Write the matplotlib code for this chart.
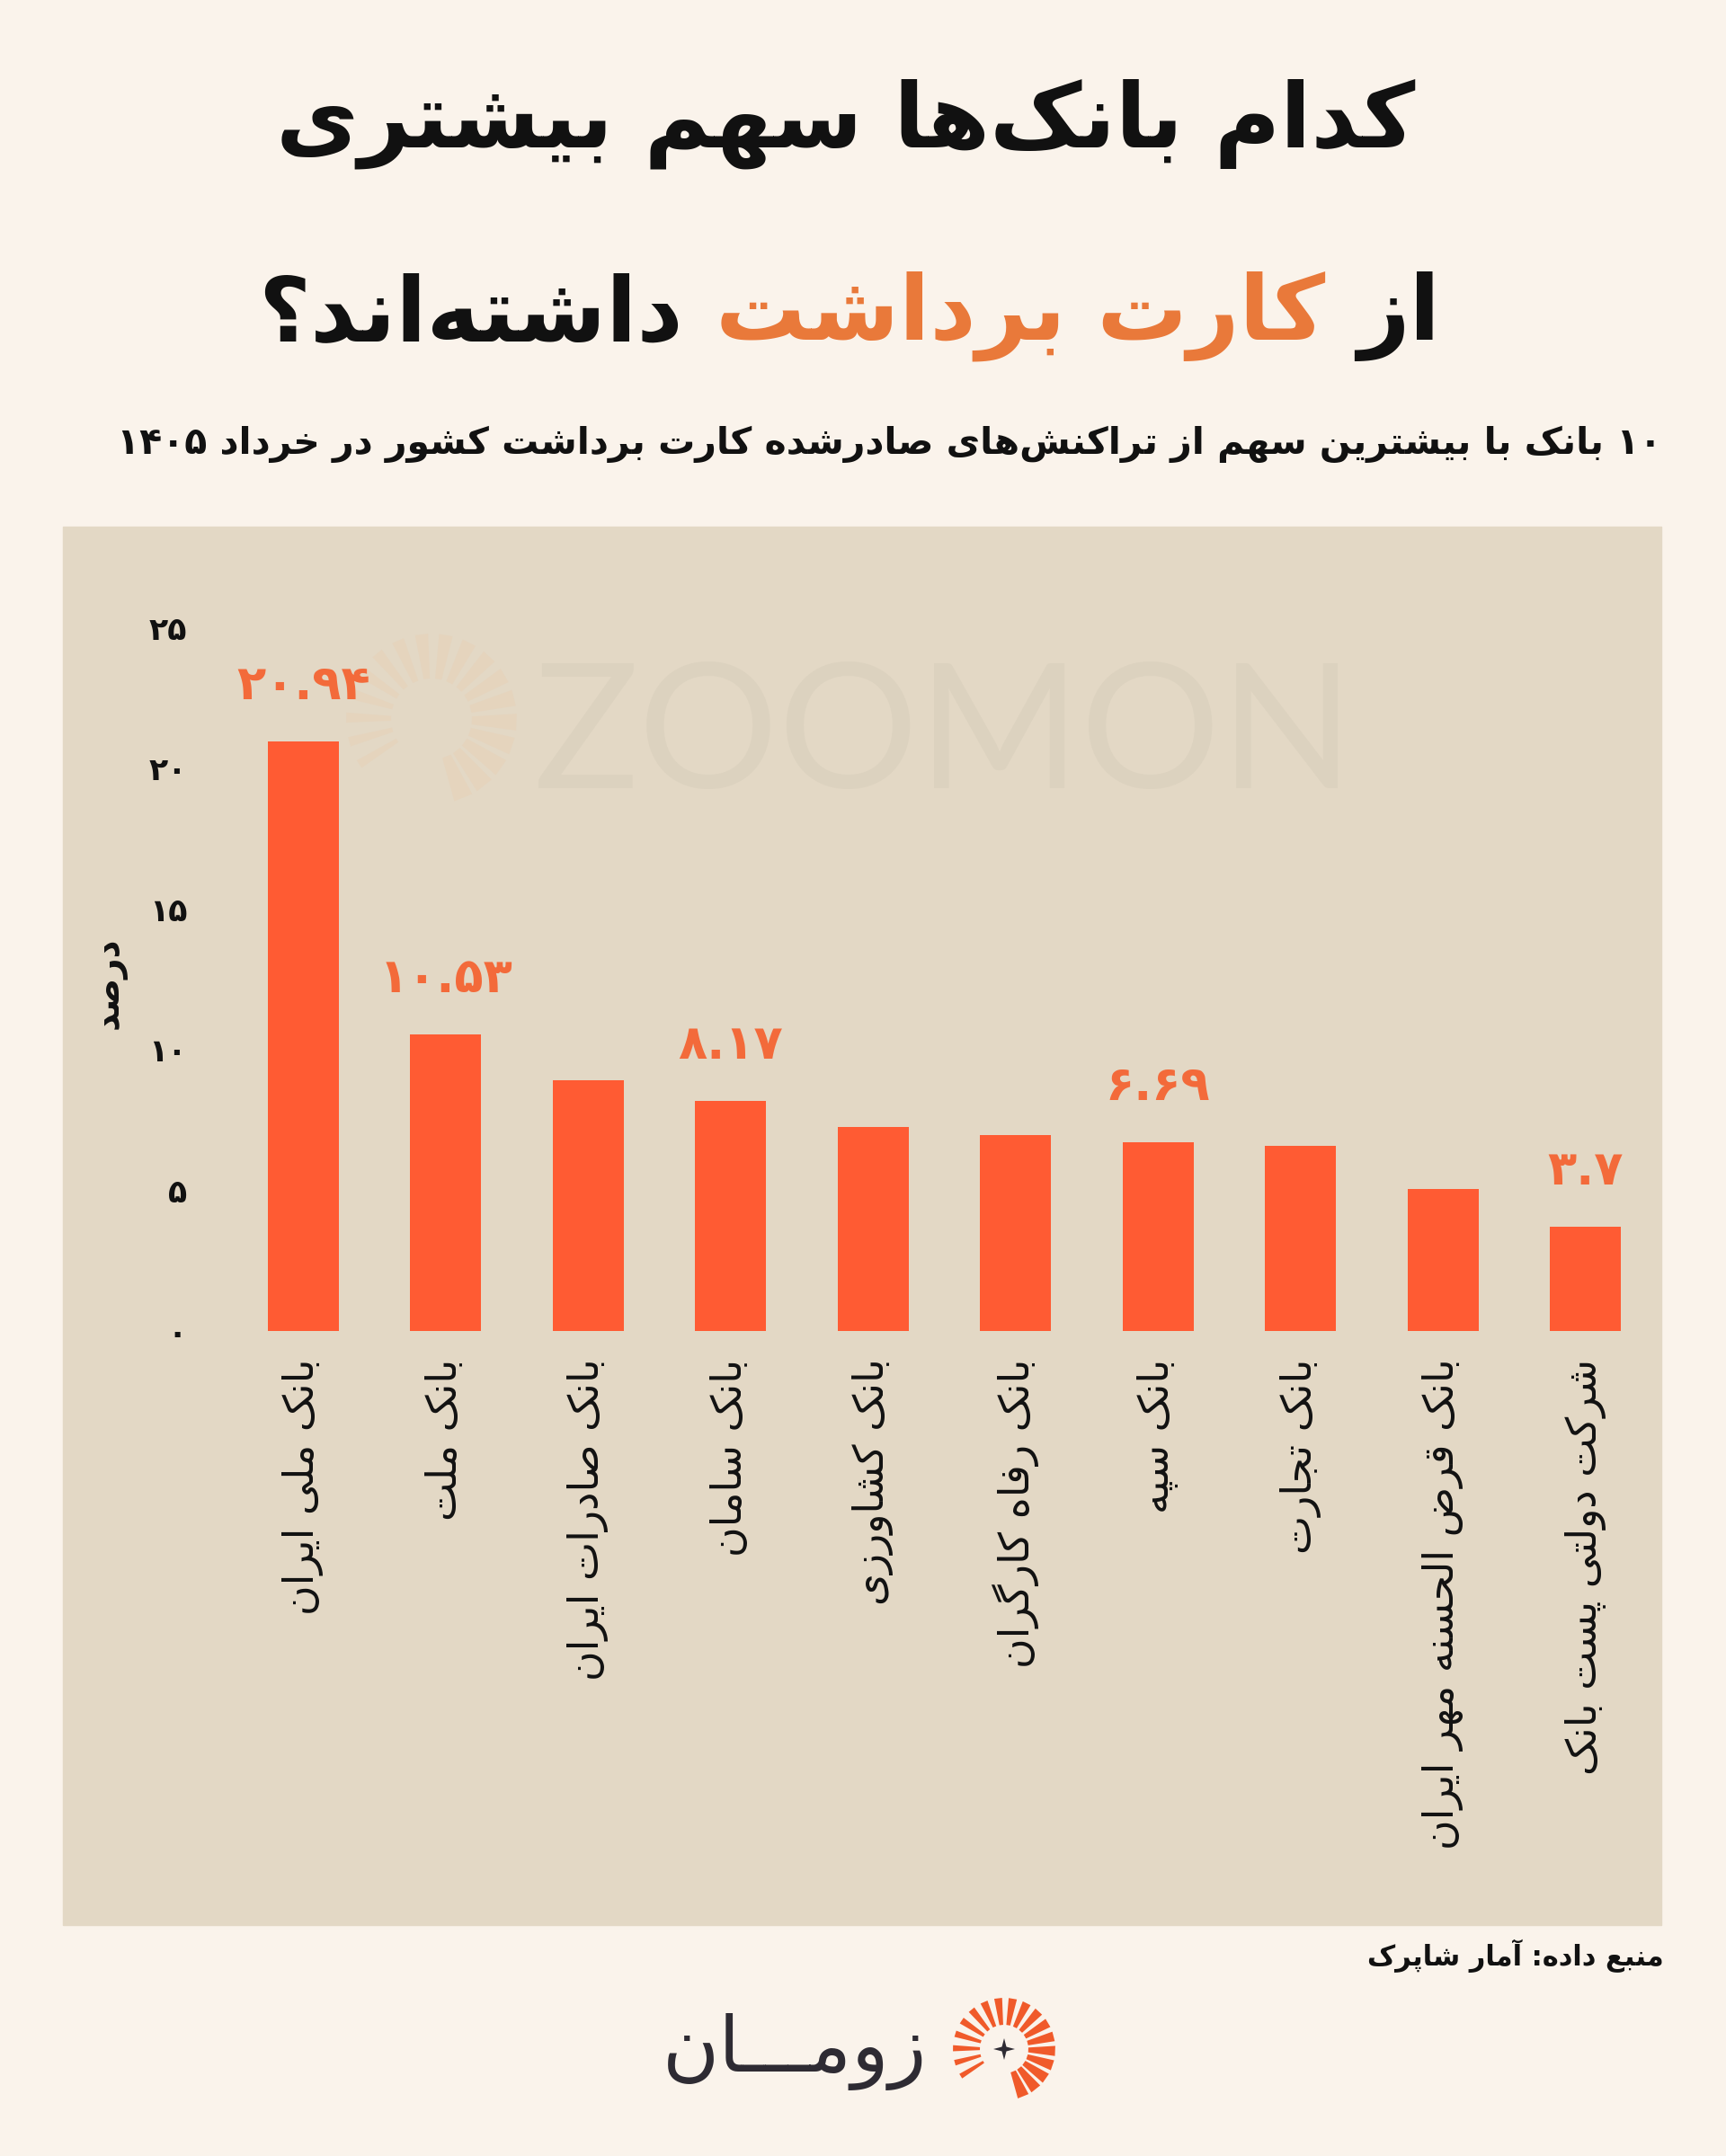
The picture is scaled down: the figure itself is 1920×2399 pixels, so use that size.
import re
import numpy as np
import matplotlib
matplotlib.use('Agg')
import matplotlib.pyplot as plt
from matplotlib.patches import Rectangle, Polygon

plt.rcParams['font.family'] = ['DejaVu Sans']

W, H = 1920, 2399

# data
banks = ['بانک ملی ایران', 'بانک ملت', 'بانک صادرات ایران', 'بانک سامان', 'بانک کشاورزی',
         'بانک رفاه کارگران', 'بانک سپه', 'بانک تجارت', 'بانک قرض الحسنه مهر ایران',
         'شرکت دولتی پست بانک']
shares = [20.94, 10.53, 8.9, 8.17, 7.25, 6.97, 6.69, 6.57, 5.05, 3.7]
labelled = [0, 1, 3, 6, 9]
yticks = [0, 5, 10, 15, 20, 25]

title_1 = 'کدام بانک‌ها سهم بیشتری'
title_2 = ['از', 'کارت برداشت', 'داشته‌اند؟']
subtitle = '۱۰ بانک با بیشترین سهم از تراکنش‌های صادرشده کارت برداشت کشور در خرداد ۱۴۰۵'
ylabel = 'درصد'
source = 'منبع داده: آمار شاپرک'
brand = 'زومـــان'

bg = '#FAF3EB'
panel = '#E3D8C5'
bar_color = '#FF5B33'
value_color = '#F36A3A'
title_orange = '#E9793A'
ink = '#111111'

# --- minimal Persian shaping (matplotlib has no bidi / joining) ---
dual = {'ب': 0xFE8F, 'ت': 0xFE95, 'ث': 0xFE99, 'ج': 0xFE9D, 'ح': 0xFEA1, 'خ': 0xFEA5,
        'س': 0xFEB1, 'ش': 0xFEB5, 'ص': 0xFEB9, 'ض': 0xFEBD, 'ط': 0xFEC1, 'ظ': 0xFEC5,
        'ع': 0xFEC9, 'غ': 0xFECD, 'ف': 0xFED1, 'ق': 0xFED5, 'ل': 0xFEDD, 'م': 0xFEE1,
        'ن': 0xFEE5, 'ه': 0xFEE9, 'پ': 0xFB56, 'چ': 0xFB7A, 'ک': 0xFB8E, 'گ': 0xFB92,
        'ی': 0xFBFC}
right = {'ا': 0xFE8D, 'آ': 0xFE81, 'د': 0xFEA9, 'ذ': 0xFEAB, 'ر': 0xFEAD, 'ز': 0xFEAF,
         'ژ': 0xFB8A, 'و': 0xFEED}
TATWEEL = 'ـ'
DIGITS = '۰۱۲۳۴۵۶۷۸۹'


def shape(s):
    out = []
    for i, c in enumerate(s):
        if c == '\u200c':
            continue
        if c not in dual and c not in right:
            out.append(c)
            continue
        prev = s[i - 1] if i > 0 else ''
        nxt = s[i + 1] if i < len(s) - 1 else ''
        jp = prev in dual or prev == TATWEEL
        jn = c in dual and (nxt in dual or nxt in right or nxt == TATWEEL)
        if c in right:
            out.append(chr(right[c] + (1 if jp else 0)))
        else:
            k = 3 if (jp and jn) else 2 if jn else 1 if jp else 0
            out.append(chr(dual[c] + k))
    return ''.join(out)


def rtl(s):
    s = shape(s)
    runs = re.findall(r'[۰-۹][۰-۹.]*|[^۰-۹]+', s)
    return ''.join(r if r[0] in DIGITS else r[::-1] for r in reversed(runs))


def fa(v):
    return ''.join(DIGITS[int(ch)] if ch.isdigit() else ch for ch in str(v))


def fx(x):
    return x / W


def fy(y):
    return 1 - y / H


def sunburst(fig, cx, cy, r_in, r_out, angles, widths, color, alpha=1.0, z=1):
    for a, w in zip(angles, widths):
        a0, a1 = np.radians(a - w / 2), np.radians(a + w / 2)
        pts = [(cx + r_in * np.cos(a0), cy - r_in * np.sin(a0)),
               (cx + r_out * np.cos(a0), cy - r_out * np.sin(a0)),
               (cx + r_out * np.cos(a1), cy - r_out * np.sin(a1)),
               (cx + r_in * np.cos(a1), cy - r_in * np.sin(a1))]
        pts = [(fx(x), fy(y)) for x, y in pts]
        fig.patches.append(Polygon(pts, closed=True, transform=fig.transFigure,
                                   color=color, alpha=alpha, lw=0, zorder=z))


fig = plt.figure(figsize=(W / 100, H / 100), dpi=100, facecolor=bg)

# chart panel
fig.patches.append(Rectangle((fx(70), fy(2142)), (1848 - 70) / W, (2142 - 586) / H,
                             transform=fig.transFigure, color=panel, zorder=-2))

# watermark
ray_angles = np.linspace(-68, 212, 18)
ray_widths = np.linspace(13, 6, 18)
sunburst(fig, 480, 800, 45, 95, ray_angles, ray_widths, '#E9CDB0', alpha=0.35, z=-1)
fig.text(fx(1050), fy(822), 'ZOOMON', fontsize=140, family='Lato',
         color='#DCD2BF', ha='center', va='center', zorder=-1)

# title
fig.text(fx(941), fy(138), rtl(title_1), fontsize=72, fontweight='bold', color=ink,
         ha='center', va='center')
renderer = fig.canvas.get_renderer()
parts = [fig.text(0, fy(352), rtl(t), fontsize=72, fontweight='bold', va='center', ha='left',
                  color=c) for t, c in zip(title_2, [ink, title_orange, ink])]
widths = [p.get_window_extent(renderer).width for p in parts]
gap = 36
x = 945 + (sum(widths) + 2 * gap) / 2
for p, w in zip(parts, widths):
    x -= w
    p.set_x(fx(x))
    x -= gap

fig.text(fx(1848), fy(494), rtl(subtitle), fontsize=29.5, fontweight='bold', color=ink,
         ha='right', va='center')

# bars
ax = fig.add_axes([fx(258), fy(1481), (1843 - 258) / W, (1481 - 698) / H])
ax.set_facecolor('none')
xs = np.arange(len(banks))
ax.bar(xs, shares, width=0.5, color=bar_color, zorder=3)
ax.set_xlim(-0.5, len(banks) - 0.5)
ax.set_ylim(0, 25)
for s in ax.spines.values():
    s.set_visible(False)
ax.set_yticks(yticks)
ax.set_yticklabels([fa(t) for t in yticks], fontsize=25, fontweight='bold', color=ink)
ax.set_xticks(xs)
ax.set_xticklabels([rtl(b) for b in banks], rotation=90, ha='center', va='top',
                   fontsize=33, color=ink)
ax.tick_params(axis='y', length=0, pad=36)
ax.tick_params(axis='x', length=0, pad=22)

for i in labelled:
    ax.annotate(fa(shares[i]), xy=(i, shares[i]), xytext=(0, 26), textcoords='offset points',
                ha='center', va='bottom', fontsize=38, fontweight='bold', color=value_color)

fig.text(fx(122), fy(1094), rtl(ylabel), rotation=90, fontsize=28, fontweight='bold',
         color=ink, ha='center', va='center')

# source and logo
fig.text(fx(1851), fy(2176), rtl(source), fontsize=22, fontweight='bold', color=ink,
         ha='right', va='center')
fig.text(fx(1031), fy(2283), rtl(brand), fontsize=62, color='#2E2B33', ha='right', va='center')
sunburst(fig, 1117, 2280, 27, 57, ray_angles, ray_widths, '#F05A2A')
star = [(0, 12), (2.5, 2.5), (12, 0), (2.5, -2.5), (0, -12), (-2.5, -2.5), (-12, 0), (-2.5, 2.5)]
fig.patches.append(Polygon([(fx(1117 + a), fy(2280 - b)) for a, b in star], closed=True,
                           transform=fig.transFigure, color='#2E2B33', lw=0))

fig.savefig('out.png', dpi=100, facecolor=bg)
